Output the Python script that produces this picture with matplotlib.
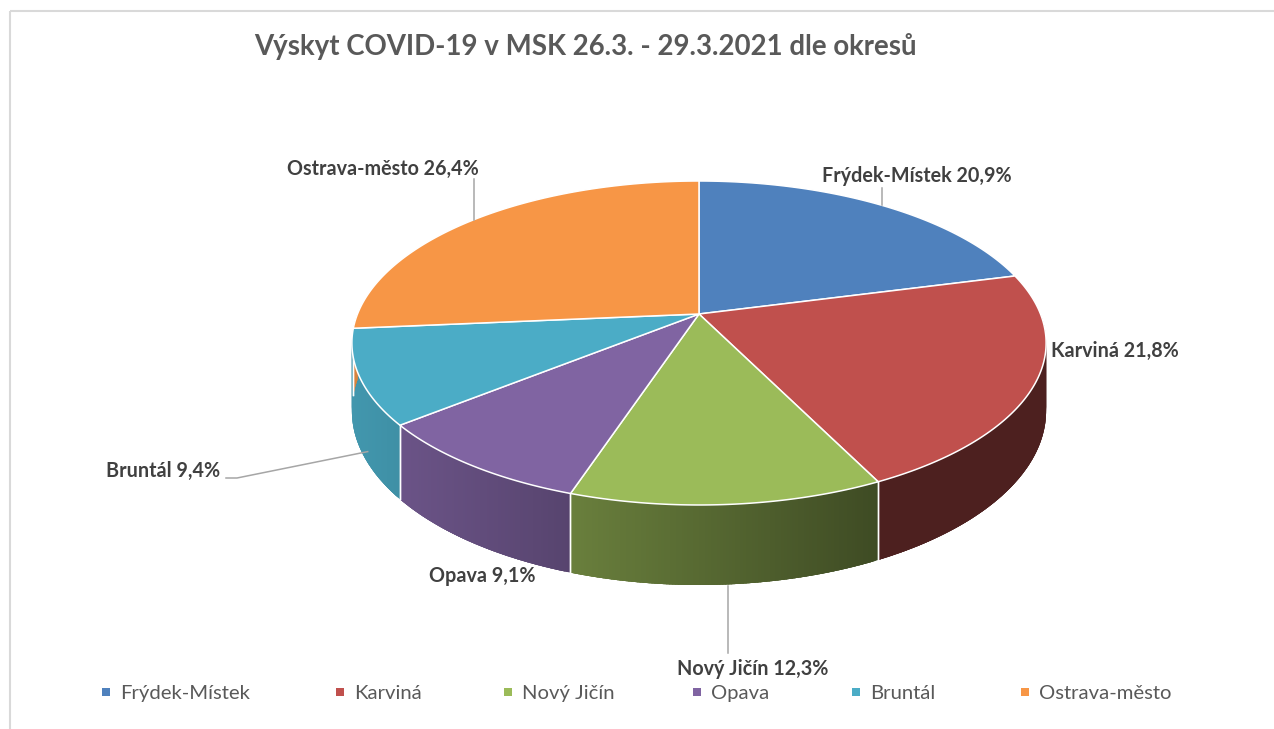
import numpy as np
import matplotlib
matplotlib.use('Agg')
import matplotlib.pyplot as plt
from matplotlib.patches import Polygon, Rectangle
from matplotlib.collections import PolyCollection
from matplotlib.colors import to_rgb

# ---------------- data ----------------
categories = ['Frýdek-Místek', 'Karviná', 'Nový Jičín', 'Opava', 'Bruntál', 'Ostrava-město']
shares = [20.9, 21.8, 12.3, 9.1, 9.4, 26.4]
colors = ['#4F81BD', '#C0504D', '#9BBB59', '#8064A2', '#4BACC6', '#F79646']
title = 'Výskyt COVID-19 v MSK 26.3. - 29.3.2021 dle okresů'

# ---------------- layout ----------------
W, H = 1274, 729
fig = plt.figure(figsize=(W / 100, H / 100), dpi=100)
ax = fig.add_axes([0, 0, 1, 1])
ax.set_xlim(0, W)
ax.set_ylim(H, 0)
ax.axis('off')

FONT = ['Lato', 'DejaVu Sans']
CX, CY, RX, RY, K, DEPTH = 699, 314, 341.5, 156.8, 0.179, 65.7


def top_pt(theta):
    t = np.radians(theta)
    d = 1 + K * np.sin(t)
    return CX + RX * np.cos(t) / d, CY - RY * np.sin(t) / d


def bot_pt(theta):
    t = np.radians(theta)
    d = 1 + K * np.sin(t)
    x, y = top_pt(theta)
    return x, y + DEPTH / d


def shade(x):
    return float(np.clip(0.88 - (x - 350) / 530 * 0.48, 0.40, 0.9))


vals = np.array(shares, dtype=float)
fr = vals / vals.sum()
starts = 90 - 360 * np.concatenate([[0], np.cumsum(fr)[:-1]])
ends = starts - 360 * fr

# chart frame (only top/left visible)
ax.plot([10, W], [11, 11], color='#D9D9D9', lw=1.5, solid_capstyle='butt')
ax.plot([10, 10], [11, H], color='#D9D9D9', lw=1.5, solid_capstyle='butt')

# ---------------- sides (front half) ----------------
polys, fcs = [], []
bounds = []
step = 0.4
for s, e, c in zip(starts, ends, colors):
    lo, hi = max(e, -180), min(s, 0)
    if lo >= hi:
        continue
    n = max(int((hi - lo) / step), 2)
    th = np.linspace(hi, lo, n)
    base = np.array(to_rgb(c))
    for i in range(len(th) - 1):
        a1 = th[i]
        a2 = max(th[i + 1] - 2.5 * step, lo)   # overlap strips to hide seams
        p1, p2 = top_pt(a1), top_pt(a2)
        q1, q2 = bot_pt(a1), bot_pt(a2)
        polys.append([p1, p2, q2, q1])
        xm = (top_pt(th[i])[0] + top_pt(th[i + 1])[0]) / 2
        fcs.append(tuple(base * shade(xm)))
    for b in (s, e):
        if -180 < b < 0:
            bounds.append(b)
pc = PolyCollection(polys, facecolors=fcs, edgecolors='none', linewidths=0, zorder=2)
ax.add_collection(pc)
for b in bounds:
    p, q = top_pt(b), bot_pt(b)
    ax.plot([p[0], q[0]], [p[1], q[1]], color='white', lw=1.0, zorder=3)

# ---------------- top faces ----------------
for s, e, c in zip(starts, ends, colors):
    th = np.linspace(s, e, 200)
    pts = [(CX, CY)] + [top_pt(a) for a in th]
    ax.add_patch(Polygon(pts, closed=True, facecolor=c, edgecolor='white',
                         lw=1.1, joinstyle='round', zorder=4))

# ---------------- text ----------------
fig.canvas.draw()
R = fig.canvas.get_renderer()


def width_of(s, size, weight):
    t = ax.text(0, 0, s, fontsize=size, fontweight=weight, family=FONT)
    w = t.get_window_extent(renderer=R).width
    t.remove()
    return w


# title
tsize = 20 * 664 / width_of(title, 20, 'bold')
ax.text(254, 55, title, fontsize=tsize, fontweight='bold', color='#595959',
        family=FONT, ha='left', va='baseline')

# data labels
labels = [f'{c} {v:.1f}%'.replace('.', ',') for c, v in zip(categories, shares)]
label_pos = {  # left x, baseline y, target width
    'Frýdek-Místek': (822, 182, 188),
    'Karviná': (1051, 357, 132),
    'Nový Jičín': (677, 675, 150),
    'Opava': (429, 582, 107),
    'Bruntál': (106, 477, 116),
    'Ostrava-město': (287, 175, 183),
}
sizes = [13 * label_pos[c][2] / width_of(l, 13, 'bold') for c, l in zip(categories, labels)]
lsize = float(np.mean(sizes))
for c, l in zip(categories, labels):
    x, y, _ = label_pos[c]
    ax.text(x, y, l, fontsize=lsize, fontweight='bold', color='#404040',
            family=FONT, ha='left', va='baseline', zorder=6)

# leader lines
mids = (starts + ends) / 2
lc = '#A6A6A6'
m = dict(zip(categories, mids))
px, py = top_pt(m['Ostrava-město'])
ax.plot([px, px], [179, py], color=lc, lw=1.1, zorder=5)
px, py = top_pt(m['Frýdek-Místek'])
ax.plot([px, px], [188, py], color=lc, lw=1.1, zorder=5)
px, py = bot_pt(m['Nový Jičín'])
ax.plot([px, px], [py + 2, 653], color=lc, lw=1.1, zorder=5)
px, py = bot_pt(m['Bruntál'])
ax.plot([226, 237, px + 8], [478, 478, py + 4], color=lc, lw=1.1, zorder=5)

# legend
leg_x = [106, 340, 508, 697, 856, 1025]
leg_size = 12 * 129 / width_of('Frýdek-Místek', 12, 'normal')
for x, c, col in zip(leg_x, categories, colors):
    ax.add_patch(Rectangle((x - 4, 687.5), 8, 8, facecolor=col, edgecolor='none'))
    ax.text(x + 14, 699, c, fontsize=leg_size, color='#595959', family=FONT,
            ha='left', va='baseline')

fig.savefig('out.png', dpi=100)
